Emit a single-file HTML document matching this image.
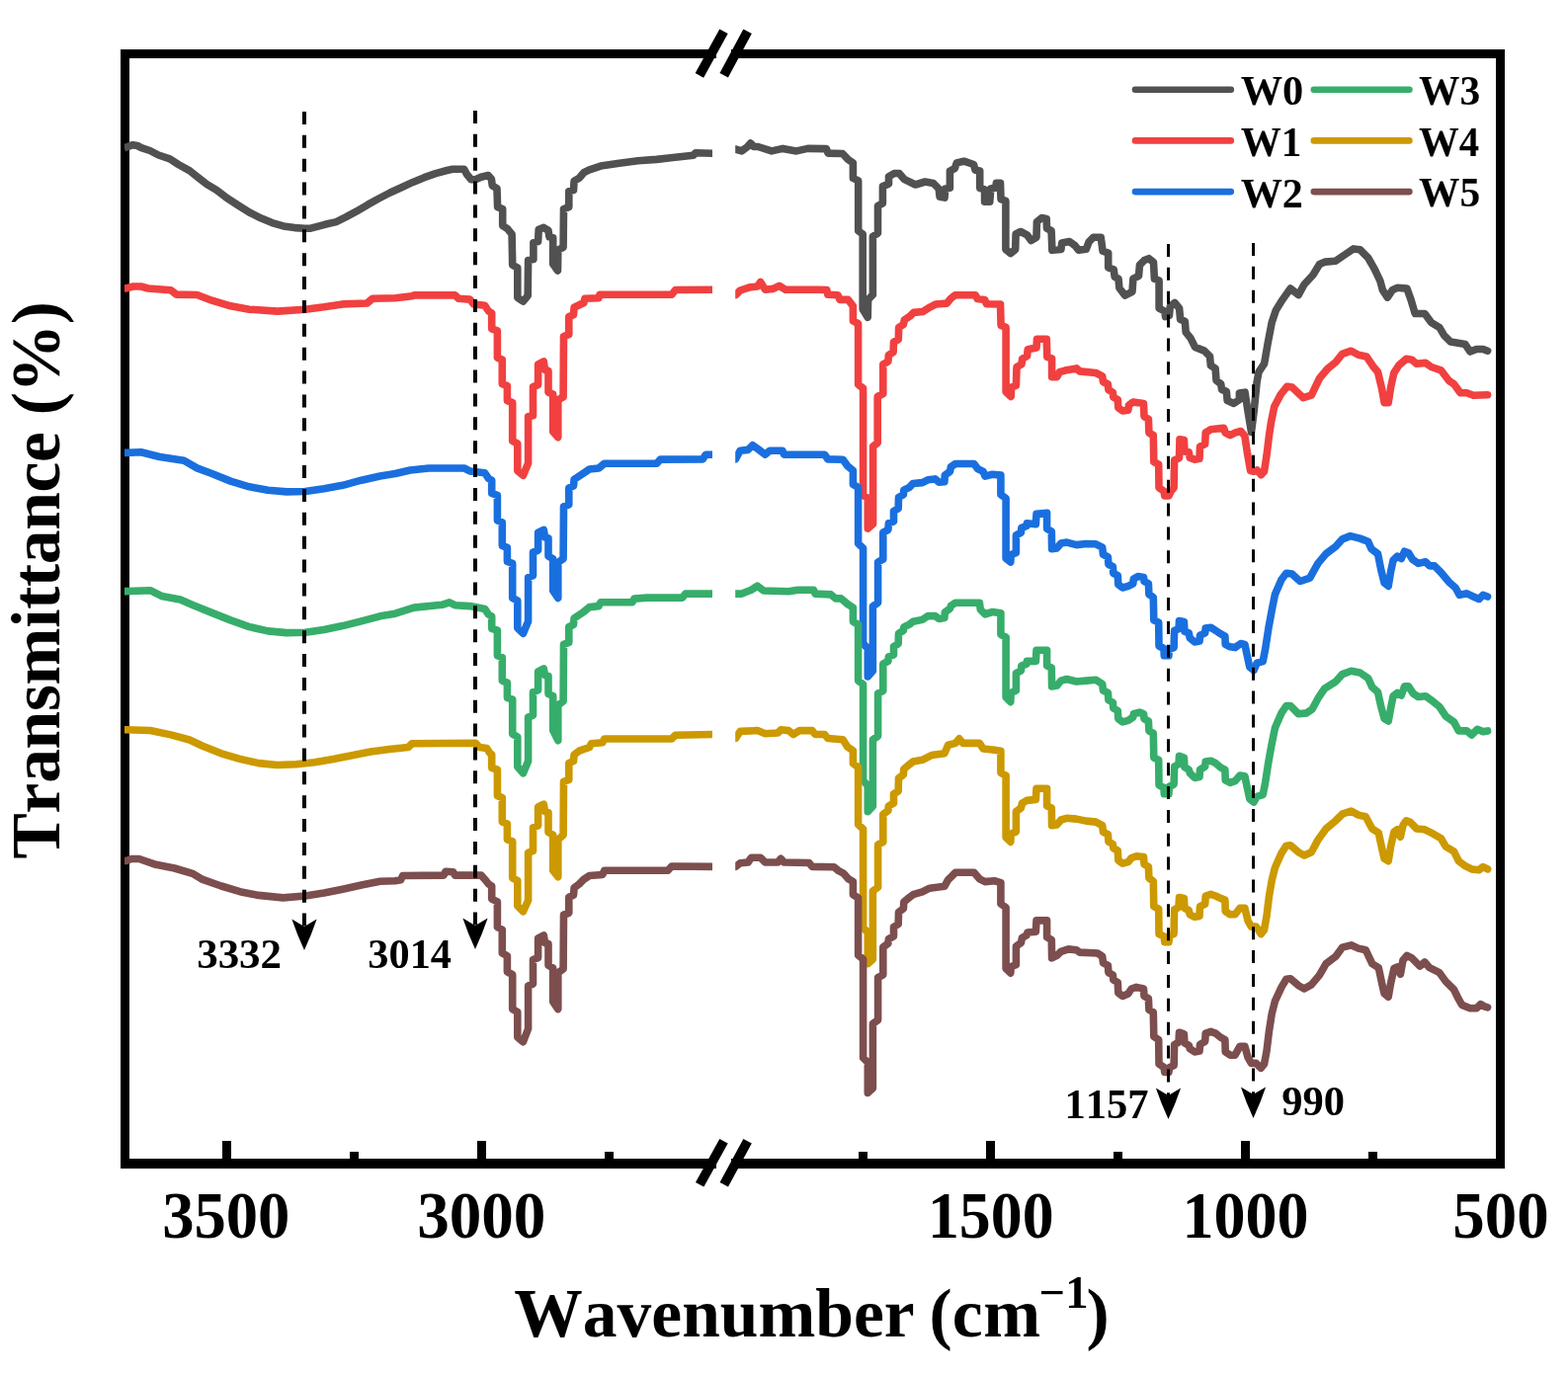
<!DOCTYPE html>
<html lang="en"><head><meta charset="utf-8"><title>FTIR spectra W0-W5</title>
<style>
html,body{margin:0;padding:0;background:#fff;}
body{width:1587px;height:1391px;overflow:hidden;}
svg{display:block;}
text{font-family:"Liberation Serif","Times New Roman",Times,serif;font-weight:bold;fill:#000;font-kerning:none;white-space:pre;}
.c{fill:none;stroke-width:7.6;stroke-linejoin:round;stroke-linecap:butt;}
.d{fill:none;stroke:#000;stroke-dasharray:13 10.87;}
</style></head><body>
<svg width="1587" height="1391" viewBox="0 0 1587 1391">
<rect x="0" y="0" width="1587" height="1391" fill="#fff"/>

<g fill="#000">
<rect x="122" y="50" width="9" height="1133"/>
<rect x="1514" y="50" width="9" height="1133"/>
<rect x="122" y="50" width="603" height="9"/>
<rect x="740" y="50" width="783" height="9"/>
<rect x="122" y="1173" width="603" height="10"/>
<rect x="740" y="1173" width="783" height="10"/>
</g>
<g stroke="#000" stroke-width="9.6" stroke-linecap="butt">
<line x1="707.9" y1="76.4" x2="732.5" y2="31.7"/>
<line x1="732.7" y1="76.2" x2="756.6" y2="31.7"/>
<line x1="708.2" y1="1199.3" x2="732.5" y2="1155.3"/>
<line x1="732.8" y1="1199.3" x2="756.6" y2="1155.3"/>
</g>
<g fill="#000">
<rect x="225.0" y="1155" width="9" height="19"/>
<rect x="483.0" y="1155" width="9" height="19"/>
<rect x="998.0" y="1155" width="9" height="19"/>
<rect x="1256.0" y="1155" width="9" height="19"/>
<rect x="354.0" y="1166" width="9" height="8"/>
<rect x="612.0" y="1166" width="9" height="8"/>
<rect x="869.0" y="1166" width="9" height="8"/>
<rect x="1127.0" y="1166" width="9" height="8"/>
<rect x="1385.0" y="1166" width="9" height="8"/>
</g>
<defs><clipPath id="cl"><rect x="125.8" y="60" width="595.2" height="1110"/></clipPath><clipPath id="cr"><rect x="744.2" y="60" width="775" height="1110"/></clipPath></defs>
<g clip-path="url(#cl)"><polyline class="c" stroke="#515151" points="125.8,149.6 128.0,149.0 134.5,146.7 139.0,147.5 143.1,149.6 151.8,152.5 160.4,157.0 171.9,160.8 180.5,166.5 192.0,172.9 200.6,179.8 209.3,186.5 219.3,192.4 229.4,200.3 240.9,207.8 252.4,215.0 263.9,220.8 275.4,225.6 286.9,228.9 298.4,230.6 308.5,231.2 314.4,231.2 328.8,227.3 340.3,224.6 350.3,219.6 360.4,214.2 371.9,207.4 383.4,201.0 394.9,195.0 406.4,189.7 417.9,184.4 429.4,179.7 440.9,175.6 452.4,172.5 458.2,171.2 469.7,171.2 472.5,176.5 476.9,181.8 481.2,181.8 486.9,179.2 494.1,177.5 497.4,181.3 498.3,187.9 503.0,190.7 503.6,209.6 508.7,211.5 508.7,228.5 513.4,231.4 518.1,237.1 518.7,268.2 523.8,271.1 523.8,301.3 529.5,305.1 534.2,299.4 534.6,263.5 539.9,262.6 539.9,245.6 544.6,244.6 545.2,232.3 550.3,230.4 555.0,233.3 556.0,239.9 559.7,240.8 559.7,267.3 564.5,273.9 564.8,253.1 570.1,250.3 570.5,211.5 575.8,209.6 575.8,193.6 580.5,192.6 581.1,183.2 586.2,180.3 590.9,174.7 596.6,171.8 607.9,168.1 626.8,165.2 645.7,162.8 664.7,161.4 678.9,159.8 701.6,157.3 704.1,154.8 724.0,155.4"/></g>
<g clip-path="url(#cr)"><polyline class="c" stroke="#515151" style="stroke-linecap:round" points="742.0,151.0 744.2,151.0 750.7,152.9 756.0,149.0 759.6,145.0 763.0,148.5 767.1,148.5 781.0,152.9 792.3,150.4 806.2,152.9 817.5,150.4 836.4,150.6 838.0,155.1 852.8,155.5 858.5,161.6 863.4,164.9 863.4,180.4 868.7,182.9 868.7,233.7 873.2,237.0 873.2,313.1 878.2,321.3 878.6,303.3 883.4,298.4 883.4,239.4 888.5,236.1 888.5,208.3 893.4,205.8 893.4,188.6 899.5,186.2 899.5,178.8 905.2,175.5 910.1,175.5 915.0,181.3 926.5,187.0 936.3,184.0 944.5,185.4 950.2,191.1 951.1,199.3 956.0,200.1 956.8,191.1 961.4,190.3 961.4,173.1 966.3,170.6 968.3,164.9 975.6,163.2 985.5,166.5 987.1,172.3 991.7,173.1 991.7,190.3 996.6,191.9 996.6,204.2 1001.8,204.2 1002.7,191.1 1007.6,190.3 1008.4,185.4 1012.5,185.4 1013.0,201.7 1017.9,203.4 1017.9,252.5 1022.8,256.6 1027.7,252.5 1028.1,237.0 1033.0,234.5 1039.5,237.8 1043.6,243.5 1049.0,240.2 1049.4,224.7 1054.3,220.6 1059.2,221.4 1059.5,231.2 1064.1,233.7 1064.9,253.3 1073.9,252.5 1074.7,246.0 1082.4,244.5 1088.0,248.6 1091.8,253.3 1099.3,252.3 1102.1,244.9 1106.7,240.2 1114.2,240.2 1116.1,254.2 1121.7,256.1 1121.7,271.0 1127.3,272.9 1128.2,280.4 1132.0,282.2 1132.9,291.6 1138.5,299.1 1146.0,295.3 1146.9,282.2 1152.5,279.4 1153.5,268.2 1158.1,263.6 1162.8,261.7 1167.5,265.4 1168.4,282.2 1173.1,284.1 1173.1,312.1 1178.7,315.0 1179.6,320.6 1183.4,319.6 1184.3,310.3 1189.0,306.5 1193.6,312.1 1194.6,323.4 1199.3,325.2 1200.2,336.4 1204.9,342.1 1209.5,351.4 1218.9,355.1 1224.5,360.7 1225.4,370.1 1230.1,372.9 1231.0,385.0 1235.7,388.8 1236.6,394.4 1241.3,396.3 1242.2,405.6 1248.8,408.4 1254.4,404.7 1254.4,398.1 1260.0,397.2 1262.8,415.0 1266.5,437.4 1269.3,415.0 1272.1,386.9 1274.0,376.6 1279.6,368.2 1283.1,347.8 1287.2,326.5 1291.3,314.2 1297.9,303.6 1306.0,292.1 1314.2,298.6 1320.0,288.0 1329.0,278.2 1335.5,267.5 1341.3,265.1 1351.9,264.2 1360.1,258.5 1369.9,251.9 1376.5,252.8 1384.7,261.0 1391.2,272.4 1397.0,284.7 1399.4,293.7 1404.3,301.1 1409.3,293.7 1414.2,291.3 1424.0,292.1 1428.1,303.6 1432.2,317.5 1442.0,317.5 1448.6,326.5 1456.8,331.4 1461.7,339.6 1468.2,346.1 1483.0,348.6 1487.9,356.0 1494.4,353.5 1501.0,353.5 1505.6,355.2"/></g>
<g clip-path="url(#cl)"><polyline class="c" stroke="#F14040" points="125.8,292.0 127.6,291.9 135.0,290.0 142.7,290.0 150.0,292.0 172.9,293.8 178.6,298.1 199.4,298.5 214.5,304.2 233.4,309.8 252.3,313.2 280.7,315.1 309.0,313.2 327.9,310.8 346.8,307.9 371.4,307.0 377.1,302.3 400.0,301.7 417.0,299.8 418.9,298.9 460.5,298.9 464.3,302.3 475.6,303.1 479.4,308.0 490.7,309.3 494.5,315.0 497.7,316.9 497.7,332.9 503.4,334.8 503.4,362.2 508.3,364.1 508.3,388.7 513.4,390.6 513.4,405.7 518.7,407.6 518.7,446.4 523.8,449.2 523.8,476.6 529.5,481.3 534.6,469.0 534.6,421.8 539.5,420.8 539.5,391.5 544.6,389.6 544.6,368.8 550.3,366.0 551.6,374.5 555.0,375.5 555.0,397.2 559.7,399.1 559.7,436.9 564.8,442.6 564.8,404.8 570.1,401.9 570.5,340.5 575.8,338.6 575.8,320.6 580.5,318.8 581.1,311.2 590.9,306.5 591.9,302.3 606.0,301.7 607.0,298.3 679.8,298.3 683.6,293.5 724.0,293.2"/></g>
<g clip-path="url(#cr)"><polyline class="c" stroke="#F14040" style="stroke-linecap:round" points="742.0,298.8 744.4,298.8 749.2,294.0 758.7,290.9 766.6,290.0 769.7,285.5 774.5,293.2 782.4,292.4 788.7,289.3 795.0,293.2 828.3,293.2 836.8,293.5 837.8,298.3 848.0,298.7 849.9,303.4 858.3,303.4 863.4,309.9 863.4,324.9 868.6,327.7 868.6,389.3 873.6,393.1 873.6,501.5 878.3,504.3 878.3,535.1 883.6,530.5 883.6,452.0 888.2,448.2 888.2,401.5 893.8,398.7 893.8,368.8 898.9,366.0 899.4,359.4 904.1,356.6 904.5,346.4 909.3,343.6 909.7,331.4 914.4,328.6 915.3,323.9 920.9,320.2 924.7,316.4 934.0,315.5 941.5,310.8 947.1,308.0 958.3,307.1 962.1,302.4 966.7,298.7 987.3,298.7 989.2,302.4 996.6,303.4 998.5,307.7 1012.5,308.0 1013.1,329.5 1018.1,331.4 1018.1,396.8 1023.2,401.5 1023.7,392.1 1028.4,390.3 1029.0,371.6 1034.0,368.8 1034.6,363.2 1039.6,360.4 1040.2,353.8 1049.0,352.0 1049.5,343.2 1059.3,343.2 1059.8,361.3 1064.6,362.8 1064.6,381.6 1069.8,381.6 1072.3,376.7 1078.0,375.1 1089.5,372.9 1092.8,375.9 1109.1,377.5 1115.7,380.8 1116.5,386.5 1121.4,389.0 1121.9,394.7 1126.4,397.2 1126.8,402.1 1131.3,404.5 1131.8,412.7 1136.2,416.0 1141.9,415.2 1142.4,410.3 1146.8,407.0 1157.5,408.6 1158.0,421.7 1162.4,424.2 1162.9,438.1 1167.3,440.6 1167.8,467.6 1172.7,470.1 1173.0,493.8 1178.0,497.1 1178.8,502.0 1182.9,502.0 1185.3,497.1 1188.1,493.8 1188.6,466.0 1193.5,463.5 1194.0,444.7 1198.4,445.5 1198.9,457.0 1203.3,457.8 1204.2,463.5 1209.1,465.2 1214.0,464.3 1214.5,452.1 1219.7,449.6 1220.2,438.1 1225.5,434.8 1232.0,434.0 1238.6,433.2 1240.2,438.1 1245.1,440.6 1250.0,438.1 1255.8,436.5 1259.9,441.4 1262.3,457.8 1265.6,476.6 1268.9,477.4 1272.2,475.8 1276.2,480.7 1279.5,477.4 1282.0,461.1 1284.4,441.4 1286.4,428.1 1289.7,411.7 1296.2,399.4 1302.8,391.2 1307.7,392.0 1319.1,402.7 1327.3,400.2 1335.5,383.0 1343.7,373.2 1351.9,366.6 1358.5,358.4 1367.5,355.2 1374.8,359.3 1383.0,360.9 1389.6,370.7 1394.5,376.5 1398.6,393.7 1401.1,407.6 1405.2,407.6 1407.6,392.0 1410.9,377.3 1415.8,369.9 1423.2,363.3 1428.9,364.2 1433.8,368.3 1442.8,367.4 1448.6,371.5 1458.4,374.8 1466.6,385.5 1471.5,388.7 1478.1,397.8 1484.6,397.8 1491.2,400.2 1505.6,399.7"/></g>
<g clip-path="url(#cl)"><polyline class="c" stroke="#1A6FDF" points="125.8,458.4 127.6,458.4 142.7,457.8 161.6,462.5 186.2,466.3 199.4,473.9 214.5,479.5 233.4,487.1 252.3,492.8 271.2,496.2 290.1,497.9 309.0,497.5 327.9,494.7 346.8,491.3 365.7,486.2 384.6,482.0 400.0,479.5 415.1,476.0 434.0,474.0 469.9,474.0 475.6,476.9 490.7,478.8 494.5,484.4 497.7,486.3 497.7,499.5 503.4,501.4 503.4,527.0 508.3,528.8 508.3,552.5 513.4,554.4 513.4,568.5 518.7,570.4 518.7,605.4 523.8,608.2 523.8,635.7 529.5,641.3 534.6,629.0 534.6,584.6 539.5,582.7 539.5,559.1 544.6,557.2 544.6,539.2 550.3,536.4 551.6,544.0 555.0,544.9 555.0,562.9 559.7,565.7 559.7,597.8 564.8,605.4 564.8,569.5 570.1,565.7 570.5,512.8 575.8,510.9 575.8,493.9 580.5,492.0 581.1,485.4 590.9,478.8 596.6,475.0 606.0,474.0 611.7,469.3 664.7,469.3 668.4,465.1 711.2,464.9 714.4,460.2 724.0,460.2"/></g>
<g clip-path="url(#cr)"><polyline class="c" stroke="#1A6FDF" style="stroke-linecap:round" points="742.0,464.9 744.4,464.9 749.2,456.2 757.1,455.4 761.8,450.7 768.2,455.4 774.5,460.2 779.2,456.2 791.9,456.2 793.5,460.2 834.6,460.2 837.8,464.9 853.1,465.2 857.8,471.8 863.4,476.4 863.4,490.5 868.6,493.3 868.6,550.3 873.6,555.0 873.6,651.2 878.3,656.8 878.3,684.9 883.4,679.3 883.4,613.8 888.6,610.1 888.6,569.0 893.8,566.2 893.8,539.1 898.9,536.3 899.4,529.7 904.5,527.9 904.5,517.6 909.2,514.8 909.5,503.6 914.4,500.7 914.8,496.1 920.4,493.3 924.1,489.5 933.5,488.6 939.1,485.8 946.5,484.9 950.3,488.2 955.9,487.7 956.3,481.1 961.5,477.4 962.4,472.7 967.1,469.5 985.8,469.5 989.5,474.6 995.1,477.4 997.0,482.1 1004.5,480.2 1012.9,481.1 1012.9,500.7 1018.1,504.5 1018.1,565.2 1022.8,569.0 1023.2,561.5 1028.4,559.6 1028.4,541.9 1033.5,539.1 1033.8,534.4 1039.1,532.5 1039.4,529.7 1048.4,530.7 1049.0,520.4 1059.6,519.4 1059.6,535.3 1064.3,538.1 1064.6,555.7 1069.8,554.9 1073.9,550.0 1079.7,549.1 1089.5,551.6 1099.3,550.5 1109.1,550.8 1115.7,554.1 1116.5,561.4 1121.4,563.9 1121.9,571.3 1126.4,573.7 1126.8,580.3 1131.3,582.7 1131.8,591.7 1136.2,595.0 1141.9,593.4 1146.8,590.9 1147.3,586.0 1151.7,583.6 1157.5,584.4 1158.0,588.5 1162.4,590.9 1162.9,601.6 1167.3,604.8 1167.8,627.8 1172.7,630.2 1173.0,654.0 1178.0,656.5 1178.3,663.8 1182.9,663.8 1183.2,657.3 1188.1,655.6 1188.6,638.4 1193.0,636.8 1193.5,628.6 1198.4,629.4 1198.9,639.3 1203.3,640.9 1204.2,645.8 1209.1,649.9 1214.0,649.1 1214.5,643.3 1219.7,640.9 1220.2,636.0 1225.5,635.2 1230.4,638.4 1235.3,641.7 1239.9,644.2 1240.2,652.4 1245.1,654.8 1250.0,655.6 1255.8,651.5 1259.9,652.4 1262.3,663.8 1264.8,675.3 1268.9,678.6 1272.2,671.2 1278.2,669.6 1280.6,657.3 1283.9,636.0 1287.2,618.0 1290.5,601.6 1297.0,586.8 1301.9,580.3 1307.7,581.1 1315.9,588.5 1325.7,585.2 1333.9,570.4 1342.1,560.6 1351.9,553.2 1358.5,545.9 1366.7,542.6 1376.5,545.1 1384.7,548.3 1388.0,555.7 1394.5,560.6 1397.8,577.0 1401.1,590.1 1405.2,593.4 1407.6,578.6 1410.1,567.2 1414.2,563.1 1418.3,565.5 1421.5,558.2 1425.6,559.8 1429.7,566.4 1435.5,570.4 1442.8,568.8 1446.9,572.9 1451.8,572.9 1458.4,579.5 1466.6,589.3 1473.1,595.0 1477.2,602.4 1484.6,600.8 1489.5,603.2 1496.9,606.5 1501.0,602.4 1505.6,604.0"/></g>
<g clip-path="url(#cl)"><polyline class="c" stroke="#37AD6B" points="125.8,598.6 127.6,598.6 152.1,597.7 163.5,603.4 182.4,607.1 195.6,612.8 214.5,620.4 233.4,627.9 252.3,634.6 271.2,638.9 290.1,640.6 309.0,640.2 327.9,637.4 346.8,633.6 365.7,628.9 384.6,623.8 400.0,621.2 418.9,615.1 447.3,612.3 454.8,609.8 460.5,612.7 475.6,613.6 490.7,616.5 494.5,622.1 497.7,624.0 497.7,636.3 503.4,638.2 503.4,663.7 508.3,665.6 508.3,689.2 513.4,691.1 513.4,706.3 518.7,708.1 518.7,743.1 523.8,746.0 523.8,776.2 529.5,782.8 534.6,770.5 534.6,726.1 539.5,724.2 539.5,700.6 544.6,698.7 544.6,679.8 550.3,677.0 551.6,683.6 555.0,684.5 555.0,702.5 559.7,704.4 559.7,739.3 564.8,749.7 564.8,713.8 570.1,710.0 570.5,652.4 575.8,650.5 575.8,634.4 580.5,632.5 581.1,625.9 590.9,619.3 596.6,614.6 606.0,613.6 607.9,609.8 640.0,609.8 642.0,606.1 655.2,605.1 690.6,605.1 693.8,601.1 724.0,601.1"/></g>
<g clip-path="url(#cr)"><polyline class="c" stroke="#37AD6B" style="stroke-linecap:round" points="742.0,601.1 744.4,601.1 750.8,601.1 760.3,597.2 766.6,593.2 772.9,598.0 798.2,598.8 807.7,597.2 823.5,597.2 825.1,601.1 840.9,601.9 845.7,605.9 851.2,605.9 857.8,611.5 863.4,615.2 863.4,629.3 868.6,632.1 868.6,689.1 873.6,692.8 873.6,790.0 878.3,795.6 878.3,821.8 883.4,816.2 883.4,748.9 888.6,745.1 888.6,702.1 893.8,699.3 893.8,672.2 898.9,669.4 899.4,664.8 904.5,662.9 904.5,654.5 909.2,651.7 909.5,641.4 914.4,638.2 914.8,634.9 920.4,632.1 924.1,629.3 933.5,627.4 939.1,623.6 946.5,623.6 950.3,626.4 955.9,625.5 956.3,619.9 961.5,616.2 962.4,613.4 967.1,610.2 991.4,610.2 992.3,617.1 997.0,621.8 1004.5,619.5 1012.9,620.8 1012.9,642.3 1018.1,645.1 1018.1,705.9 1022.8,710.6 1023.2,701.2 1028.4,699.3 1028.4,681.6 1033.5,678.8 1033.8,674.1 1039.1,672.2 1039.4,669.4 1048.4,669.4 1049.0,658.2 1059.6,658.2 1059.6,674.1 1064.3,676.0 1064.6,694.9 1069.8,694.1 1073.9,689.1 1079.7,687.5 1089.5,690.0 1099.3,689.1 1109.1,688.3 1115.7,692.4 1116.5,699.0 1121.4,701.4 1121.9,708.8 1126.4,711.3 1126.8,717.0 1131.3,719.5 1131.8,727.6 1136.2,730.9 1141.9,729.3 1146.8,726.0 1147.3,722.7 1153.4,721.1 1157.5,722.7 1158.0,727.6 1162.4,730.1 1162.9,739.9 1167.3,742.4 1167.8,767.0 1172.7,769.4 1173.0,794.8 1178.0,797.3 1178.3,803.8 1182.9,803.8 1183.2,796.5 1188.1,794.0 1188.6,776.0 1193.0,773.5 1193.5,765.3 1198.4,767.0 1198.9,776.8 1203.3,779.3 1204.2,782.5 1209.1,787.4 1214.0,786.6 1214.5,779.3 1219.7,776.0 1220.2,771.1 1225.5,770.2 1230.4,772.7 1235.3,776.8 1239.9,779.3 1240.2,789.9 1245.1,792.4 1250.0,790.7 1255.0,785.0 1259.9,785.8 1262.3,797.3 1264.8,808.7 1268.9,812.0 1272.2,806.3 1278.2,804.6 1280.6,792.4 1283.9,771.1 1287.2,753.0 1290.5,736.7 1297.0,721.9 1301.9,714.5 1306.0,714.5 1314.2,722.7 1322.4,721.9 1328.2,717.8 1333.9,707.2 1340.4,697.3 1351.9,690.0 1358.5,682.6 1367.5,679.3 1376.5,681.0 1384.7,686.7 1388.8,695.7 1394.5,700.6 1397.8,715.4 1401.1,727.6 1405.2,730.1 1407.6,717.0 1410.1,704.7 1414.2,701.4 1418.3,703.9 1421.5,694.9 1425.6,694.9 1430.5,702.3 1435.5,705.5 1442.8,704.7 1448.6,708.8 1456.8,715.4 1463.3,725.2 1471.5,730.9 1476.4,739.9 1484.6,739.9 1489.5,744.0 1495.3,738.3 1501.0,740.8 1505.6,739.9"/></g>
<g clip-path="url(#cl)"><polyline class="c" stroke="#CC9900" points="125.8,738.8 127.6,738.8 152.1,739.5 172.9,743.9 191.8,749.0 205.1,755.2 224.0,762.8 242.9,768.4 261.8,772.6 280.7,774.5 299.6,773.7 318.5,771.7 337.4,768.4 356.3,764.7 375.2,760.9 394.1,758.5 413.2,756.5 417.0,752.7 481.3,752.3 485.1,756.5 492.6,757.4 495.5,762.1 497.7,764.0 497.7,777.3 503.4,779.1 503.4,805.6 508.3,807.5 508.3,832.1 513.4,834.0 513.4,850.0 518.7,851.9 518.7,888.8 523.8,891.6 523.8,917.1 529.5,922.8 534.6,911.5 534.6,863.3 539.5,861.4 539.5,837.8 544.6,835.9 544.6,817.0 550.3,814.1 551.6,821.7 555.0,822.6 555.0,842.5 559.7,845.3 559.7,881.2 564.8,887.8 564.8,850.0 570.1,845.3 570.5,791.4 575.8,789.5 575.8,772.5 580.5,770.6 581.1,764.0 586.2,760.2 596.6,756.5 598.5,752.7 609.8,751.7 611.7,748.0 679.8,748.0 683.6,744.2 724.0,743.5"/></g>
<g clip-path="url(#cr)"><polyline class="c" stroke="#CC9900" style="stroke-linecap:round" points="742.0,747.5 744.4,747.5 749.2,740.4 766.6,739.6 774.5,742.8 787.2,742.0 790.3,738.8 798.2,739.6 803.0,743.5 809.3,739.6 822.0,739.6 825.1,743.5 834.6,743.5 837.8,747.5 853.1,748.7 857.8,756.2 863.4,759.9 863.4,773.0 868.6,776.7 868.6,834.7 873.6,839.3 873.6,939.3 878.3,944.0 878.3,975.8 883.4,971.1 883.4,902.0 888.6,898.2 888.6,855.2 893.8,852.4 893.8,824.4 898.9,820.7 899.4,816.0 904.5,813.2 904.5,803.8 909.2,801.0 909.5,787.9 914.4,784.2 914.8,778.6 920.4,773.9 924.1,771.1 933.5,769.3 942.8,764.6 955.9,762.7 959.6,754.3 967.1,752.4 970.8,747.8 974.6,752.4 991.4,752.4 995.1,758.0 1004.5,759.0 1012.9,760.3 1012.9,782.3 1018.1,785.1 1018.1,847.8 1022.8,852.4 1023.2,844.0 1028.4,842.1 1028.4,821.6 1033.5,817.9 1034.4,813.2 1039.1,810.4 1048.4,809.4 1049.0,798.2 1059.6,798.2 1059.6,816.0 1064.3,817.9 1064.6,835.7 1069.8,834.9 1073.9,830.0 1079.7,828.3 1089.5,829.1 1099.3,831.1 1109.1,832.1 1115.7,835.7 1116.5,842.3 1121.4,844.7 1121.9,852.1 1126.4,854.5 1126.8,858.6 1131.3,861.1 1131.8,870.9 1136.2,874.2 1141.9,872.6 1145.2,868.5 1150.1,866.8 1157.5,867.6 1158.0,875.0 1162.4,877.5 1162.9,888.9 1167.3,892.2 1167.8,917.6 1172.7,920.1 1173.0,945.5 1178.0,947.9 1178.8,953.7 1182.9,953.7 1183.7,947.1 1188.1,945.5 1188.6,920.9 1193.0,918.4 1193.5,908.6 1198.4,909.4 1198.9,919.3 1203.3,921.7 1204.2,925.8 1209.1,928.3 1214.0,927.4 1214.5,917.6 1219.7,915.2 1220.2,907.0 1225.5,905.3 1230.4,907.0 1235.3,909.4 1239.9,911.1 1240.2,922.5 1245.1,925.8 1250.0,925.8 1255.0,919.3 1259.9,919.3 1263.1,932.4 1266.4,938.1 1271.3,938.1 1276.2,945.5 1279.5,941.4 1282.0,927.4 1284.4,907.8 1287.2,891.4 1290.5,878.3 1297.0,863.6 1301.9,856.2 1306.0,855.7 1314.2,862.7 1320.0,866.0 1327.3,862.7 1333.9,850.4 1342.1,839.0 1351.9,830.8 1358.5,824.2 1367.5,821.0 1374.8,825.1 1382.2,826.7 1388.8,839.0 1395.3,843.1 1398.6,858.6 1401.1,869.3 1405.2,871.7 1407.6,857.0 1410.9,842.3 1414.2,839.8 1417.4,847.2 1419.9,835.7 1423.2,830.8 1427.3,832.4 1433.8,839.0 1442.0,839.8 1450.2,843.9 1458.4,848.8 1463.3,857.0 1471.5,861.9 1476.4,871.7 1483.0,876.7 1489.5,879.9 1496.9,880.8 1501.0,877.5 1505.6,879.9"/></g>
<g clip-path="url(#cl)"><polyline class="c" stroke="#7D4E4E" points="125.8,871.5 127.6,871.5 133.0,869.5 140.8,869.5 157.8,875.3 176.7,879.0 195.6,884.7 205.1,890.4 224.0,897.0 242.9,902.7 261.8,906.4 286.4,908.9 309.0,907.0 327.9,904.0 346.8,900.2 365.7,896.0 384.6,892.3 400.0,891.7 405.7,890.7 407.6,886.5 449.1,886.1 451.0,882.3 458.6,882.7 460.5,886.1 487.0,886.1 490.7,890.2 494.5,895.0 497.7,896.9 497.7,910.1 503.4,912.9 503.4,938.4 508.3,941.3 508.3,964.9 513.4,967.8 513.4,983.8 518.7,986.7 518.7,1021.6 523.8,1024.5 523.8,1050.0 529.5,1054.7 534.6,1041.5 534.6,998.0 539.5,996.1 539.5,971.5 544.6,969.6 544.6,949.8 550.3,947.0 551.6,954.5 555.0,955.5 555.0,977.2 559.7,980.0 559.7,1014.1 564.8,1021.6 564.8,984.8 570.1,981.0 570.5,926.2 575.8,924.3 575.8,908.2 580.5,906.3 581.1,898.8 586.2,895.0 590.9,890.2 596.6,886.5 609.8,885.5 611.7,881.2 676.0,881.2 679.8,877.0 724.0,877.4"/></g>
<g clip-path="url(#cr)"><polyline class="c" stroke="#7D4E4E" style="stroke-linecap:round" points="742.0,877.4 744.4,877.4 749.2,873.8 757.1,873.0 760.3,868.3 769.7,868.3 774.5,873.0 787.2,873.0 790.3,869.3 793.5,873.0 818.8,873.5 822.0,877.4 844.1,877.8 848.9,881.7 853.6,884.1 858.4,889.6 863.4,892.5 863.4,905.7 868.6,909.0 868.6,967.0 873.6,971.0 873.6,1070.9 878.3,1075.6 878.3,1106.4 883.4,1101.8 883.4,1036.4 888.6,1032.6 888.6,989.6 893.8,986.8 893.8,958.9 898.9,955.2 899.4,950.6 904.5,947.8 904.5,938.4 909.2,935.6 909.5,923.5 914.4,919.7 914.8,913.2 920.4,908.5 924.1,905.7 933.5,902.9 940.9,899.2 955.9,897.3 959.6,890.7 963.4,887.0 967.1,883.3 985.8,883.3 991.4,889.8 997.0,892.6 1006.4,891.7 1012.9,893.6 1012.9,915.0 1018.1,918.8 1018.1,980.5 1022.8,985.1 1023.2,978.6 1028.4,976.7 1028.4,958.0 1033.5,954.3 1034.4,949.6 1039.1,946.8 1040.0,944.0 1048.4,943.1 1049.0,931.9 1059.6,931.9 1059.6,948.7 1064.3,951.5 1064.6,969.9 1069.8,967.4 1073.9,963.3 1081.3,960.9 1089.5,961.7 1092.8,964.1 1110.8,965.0 1115.7,968.2 1116.5,974.8 1121.4,977.3 1121.9,984.6 1126.4,987.1 1126.8,992.0 1131.3,994.5 1131.8,1005.1 1136.2,1008.4 1141.9,1005.9 1145.2,1001.0 1150.1,999.4 1157.5,1001.0 1158.0,1008.4 1162.4,1010.8 1162.9,1022.3 1167.3,1024.8 1167.8,1049.3 1172.7,1052.6 1173.0,1077.2 1178.0,1080.5 1178.8,1085.4 1182.9,1085.4 1183.7,1080.5 1188.1,1078.8 1188.6,1057.5 1193.0,1055.1 1193.5,1045.2 1198.4,1046.9 1198.9,1055.9 1203.3,1058.3 1204.2,1061.6 1209.1,1064.9 1214.0,1064.1 1214.5,1057.5 1219.7,1054.3 1220.2,1046.1 1225.5,1044.4 1230.4,1046.1 1235.3,1050.2 1239.9,1052.6 1240.2,1064.9 1245.1,1068.2 1250.0,1068.2 1255.0,1059.2 1259.9,1059.2 1263.1,1070.6 1266.4,1076.4 1271.3,1076.4 1276.2,1081.3 1279.5,1077.2 1282.0,1064.1 1284.4,1044.4 1287.2,1026.4 1290.5,1013.3 1297.0,999.4 1301.9,991.2 1306.0,990.7 1314.2,997.7 1320.0,1001.0 1327.3,996.9 1335.5,987.1 1342.1,975.6 1351.9,968.2 1358.5,959.2 1367.5,956.8 1374.8,960.1 1382.2,961.7 1388.8,975.6 1395.3,979.7 1398.6,995.3 1401.1,1005.9 1405.2,1009.2 1407.6,995.3 1410.9,980.5 1414.2,978.9 1417.4,986.3 1419.9,972.3 1424.0,967.4 1428.9,969.9 1437.1,978.1 1442.0,974.0 1446.9,979.7 1456.8,984.6 1463.3,993.6 1471.5,1001.8 1476.4,1011.7 1479.7,1017.4 1487.9,1020.7 1494.4,1020.7 1498.5,1016.6 1502.6,1019.0 1505.6,1019.8"/></g>
<g>
<line class="d" stroke-width="4.0" x1="308.0" y1="113.0" x2="308.0" y2="940.0"/>
<line class="d" stroke-width="4.0" x1="481.0" y1="112.0" x2="481.0" y2="939.0"/>
<line class="d" stroke-width="3.0" x1="1182.5" y1="247.0" x2="1182.5" y2="1110.9"/>
<line class="d" stroke-width="3.0" x1="1268.5" y1="246.0" x2="1268.5" y2="1109.9"/>
</g>
<path d="M308.0,962.0 Q300.69,946.25 295.4,930.5 L308.0,938.0 L320.6,930.5 Q315.31,946.25 308.0,962.0 Z" fill="#000"/>
<path d="M481.0,961.0 Q473.69,945.25 468.4,929.5 L481.0,937.0 L493.6,929.5 Q488.31,945.25 481.0,961.0 Z" fill="#000"/>
<path d="M1182.5,1132.9 Q1175.19,1117.15 1169.9,1101.4 L1182.5,1108.9 L1195.1,1101.4 Q1189.81,1117.15 1182.5,1132.9 Z" fill="#000"/>
<path d="M1268.5,1131.9 Q1261.19,1116.15 1255.9,1100.4 L1268.5,1107.9 L1281.1,1100.4 Q1275.81,1116.15 1268.5,1131.9 Z" fill="#000"/>
<g stroke-width="6.6" stroke-linecap="round" fill="none">
<line x1="1149" y1="90.7" x2="1245.8" y2="90.7" stroke="#515151"/>
<line x1="1149" y1="142.4" x2="1245.8" y2="142.4" stroke="#F14040"/>
<line x1="1149" y1="194.1" x2="1245.8" y2="194.1" stroke="#1A6FDF"/>
<line x1="1329.8" y1="90.7" x2="1426.4" y2="90.7" stroke="#37AD6B"/>
<line x1="1329.8" y1="142.4" x2="1426.4" y2="142.4" stroke="#CC9900"/>
<line x1="1329.8" y1="194.1" x2="1426.4" y2="194.1" stroke="#7D4E4E"/>
</g>
<text id="t1" x="164.14" y="1252.62" font-size="67.44" textLength="129.25" lengthAdjust="spacingAndGlyphs">3500</text>
<text id="t2" x="422.14" y="1252.62" font-size="67.44" textLength="130.30" lengthAdjust="spacingAndGlyphs">3000</text>
<text id="t3" x="938.91" y="1252.62" font-size="67.44" textLength="127.69" lengthAdjust="spacingAndGlyphs">1500</text>
<text id="t4" x="1196.44" y="1252.62" font-size="67.44" textLength="127.98" lengthAdjust="spacingAndGlyphs">1000</text>
<text id="t5" x="1470.36" y="1252.62" font-size="67.44" textLength="97.26" lengthAdjust="spacingAndGlyphs">500</text>
<text id="lgW0" x="1255.68" y="106.28" font-size="42.83" textLength="63.57" lengthAdjust="spacingAndGlyphs">W0</text>
<text id="lgW1" x="1255.68" y="157.74" font-size="42.92" textLength="61.62" lengthAdjust="spacingAndGlyphs">W1</text>
<text id="lgW2" x="1255.68" y="209.59" font-size="42.83" textLength="63.30" lengthAdjust="spacingAndGlyphs">W2</text>
<text id="lgW3" x="1436.00" y="106.28" font-size="42.83" textLength="62.09" lengthAdjust="spacingAndGlyphs">W3</text>
<text id="lgW4" x="1436.00" y="157.74" font-size="42.92" textLength="61.07" lengthAdjust="spacingAndGlyphs">W4</text>
<text id="lgW5" x="1436.00" y="209.34" font-size="43.21" textLength="62.13" lengthAdjust="spacingAndGlyphs">W5</text>
<text id="a1" x="199.18" y="979.78" font-size="42.14" textLength="85.90" lengthAdjust="spacingAndGlyphs">3332</text>
<text id="a2" x="372.35" y="980.09" font-size="42.15" textLength="84.62" lengthAdjust="spacingAndGlyphs">3014</text>
<text id="a3" x="1077.38" y="1131.90" font-size="42.14" textLength="85.14" lengthAdjust="spacingAndGlyphs">1157</text>
<text id="a4" x="1297.34" y="1128.90" font-size="41.68" textLength="63.71" lengthAdjust="spacingAndGlyphs">990</text>
<text id="xt" x="520.30" y="1352.80" font-size="69.50">Wavenumber <tspan x="940.60 963.74 995.30">(cm</tspan><tspan x="1051.50 1078.30" y="1324.00" font-size="46.50">−1</tspan><tspan x="1099.60" y="1352.80">)</tspan></text>
<text id="yt" transform="translate(59.80,869.40) rotate(-90)" x="0" y="0" font-size="69.50" textLength="564.20" lengthAdjust="spacing">Transmittance (%)</text>
</svg></body></html>
